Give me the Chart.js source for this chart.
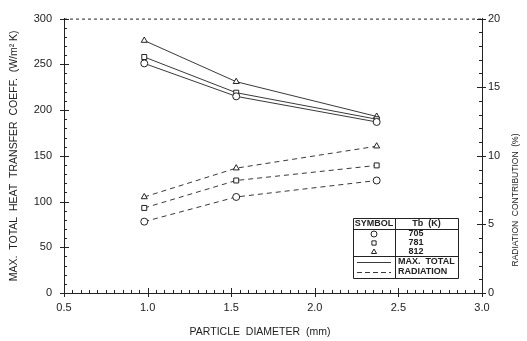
<!DOCTYPE html>
<html>
<head>
<meta charset="utf-8">
<script src="https://cdn.jsdelivr.net/npm/chart.js@4.4.1/dist/chart.umd.min.js"></script>
<style>
  html, body { margin: 0; padding: 0; background: #fff; }
  #wrap { width: 527px; height: 341px; position: relative; }
</style>
</head>
<body>
<div id="wrap"><canvas id="myChart"></canvas></div>
<script>
// Particle diameters (mm)
const diameters = [0.98, 1.53, 2.37];
// Bed temperatures Tb (K)
const temps = ['705', '781', '812'];
// Max. total heat transfer coeff. (W/m2 K), left axis
const total705 = [251, 215, 187];
const total781 = [258, 219, 190];
const total812 = [276, 231, 193];
// Radiation contribution (%), right axis
const rad705 = [5.2, 7.0, 8.2];
const rad781 = [6.2, 8.2, 9.3];
const rad812 = [7.0, 9.1, 10.7];

const ink = '#222';
const font = 'Liberation Sans, Arial, sans-serif';
const markers = ['circle', 'rect', 'triangle'];

const toPoints = (ys) => ys.map((y, i) => ({ x: diameters[i], y: y }));

function series(ys, idx, dashed) {
  return {
    label: (dashed ? 'RADIATION ' : 'MAX. TOTAL ') + temps[idx],
    data: toPoints(ys),
    yAxisID: dashed ? 'y2' : 'y',
    borderColor: ink,
    borderWidth: 0.9,
    borderDash: dashed ? [5, 4] : [],
    pointStyle: markers[idx],
    pointRadius: 3.5,
    pointBorderWidth: 1,
    pointBackgroundColor: '#fff',
    pointBorderColor: ink,
    tension: 0
  };
}

// tick marks drawn inward, dotted top frame, x/right titles and legend table
const extras = {
  id: 'extras',
  afterDraw(chart) {
    const { ctx, chartArea: a, scales } = chart;
    ctx.save();
    ctx.strokeStyle = ink;
    ctx.lineWidth = 1;
    ctx.beginPath();
    for (let v = 0; v <= 300; v += 10) {
      const y = Math.round(scales.y.getPixelForValue(v)) + 0.5;
      const major = v % 50 === 0;
      ctx.moveTo(a.left - (major ? 4 : 0), y);
      ctx.lineTo(a.left + (major ? 5 : 3), y);
    }
    for (let v = 0; v <= 20; v += 1) {
      const y = Math.round(scales.y2.getPixelForValue(v)) + 0.5;
      const major = v % 5 === 0;
      ctx.moveTo(a.right + (major ? 4 : 0), y);
      ctx.lineTo(a.right - (major ? 5 : 3), y);
    }
    for (let k = 10; k <= 60; k++) {
      const x = Math.round(scales.x.getPixelForValue(k * 0.05)) + 0.5;
      const major = k % 10 === 0;
      ctx.moveTo(x, a.bottom + (major ? 4 : 0));
      ctx.lineTo(x, a.bottom - (major ? 5 : 3));
    }
    ctx.stroke();

    // dotted top frame
    ctx.beginPath();
    ctx.setLineDash([3, 3]);
    ctx.moveTo(a.left, a.top + 0.5);
    ctx.lineTo(a.right, a.top + 0.5);
    ctx.stroke();
    ctx.setLineDash([]);

    ctx.fillStyle = ink;
    ctx.textAlign = 'center';
    ctx.textBaseline = 'middle';

    // x axis title
    ctx.font = '10.5px ' + font;
    ctx.fillText('PARTICLE  DIAMETER  (mm)', 260, 332);

    // right axis title
    ctx.font = '8.5px ' + font;
    ctx.save();
    ctx.translate(516, 200);
    ctx.rotate(-Math.PI / 2);
    ctx.fillText('RADIATION  CONTRIBUTION  (%)', 0, 0);
    ctx.restore();

    // legend table
    const L = 353, M = 395, R = 458, T = 218, B = 278;
    ctx.beginPath();
    ctx.rect(L + 0.5, T + 0.5, R - L, B - T);
    ctx.moveTo(M + 0.5, T);
    ctx.lineTo(M + 0.5, B);
    ctx.moveTo(L, 229.5);
    ctx.lineTo(R, 229.5);
    ctx.moveTo(L, 256.5);
    ctx.lineTo(R, 256.5);
    ctx.stroke();

    ctx.font = 'bold 9px ' + font;
    ctx.fillText('SYMBOL', (L + M) / 2, 224);
    ctx.fillText('Tb  (K)', (M + R) / 2, 224);
    const rows = [234, 243, 252];
    rows.forEach((ry, i) => {
      ctx.fillStyle = ink;
      ctx.fillText(temps[i], 416, ry);
      ctx.fillStyle = '#fff';
      Chart.helpers.drawPoint(ctx, {
        pointStyle: markers[i], radius: 3, rotation: 0, borderWidth: 1
      }, (L + M) / 2, ry);
    });
    ctx.fillStyle = ink;
    ctx.textAlign = 'left';
    ctx.fillText('MAX.  TOTAL', 398, 262);
    ctx.fillText('RADIATION', 398, 272);
    ctx.lineWidth = 0.9;
    ctx.beginPath();
    ctx.moveTo(L + 4, 262.5);
    ctx.lineTo(M - 4, 262.5);
    ctx.stroke();
    ctx.setLineDash([5, 3]);
    ctx.beginPath();
    ctx.moveTo(L + 4, 272.5);
    ctx.lineTo(M - 4, 272.5);
    ctx.stroke();
    ctx.restore();
  }
};

const config = {
  type: 'line',
  data: {
    datasets: [
      series(total705, 0, false),
      series(total781, 1, false),
      series(total812, 2, false),
      series(rad705, 0, true),
      series(rad781, 1, true),
      series(rad812, 2, true)
    ]
  },
  options: {
    responsive: true,
    maintainAspectRatio: false,
    animation: false,
    layout: { padding: { top: 15, right: 0, bottom: 0, left: 0 } },
    plugins: {
      legend: { display: false },
      tooltip: { enabled: false }
    },
    scales: {
      x: {
        type: 'linear',
        min: 0.5, max: 3.0,
        afterFit: (s) => { s.height = 48; },
        grid: { display: false, drawTicks: false },
        border: { display: true, color: ink, width: 1 },
        ticks: {
          stepSize: 0.5, padding: 8, color: ink,
          font: { family: font, size: 11 },
          callback: (v) => v.toFixed(1)
        }
      },
      y: {
        position: 'left',
        min: 0, max: 300,
        afterFit: (s) => { s.width = 64; },
        grid: { display: false, drawTicks: false },
        border: { display: true, color: ink, width: 1 },
        ticks: {
          stepSize: 50, padding: 12, color: ink,
          font: { family: font, size: 11 }
        },
        title: {
          display: true, text: 'MAX.  TOTAL  HEAT  TRANSFER  COEFF.  (W/m\u00B2 K)', color: ink,
          font: { family: font, size: 10.5 }, padding: { top: 8, bottom: 0 }
        }
      },
      y2: {
        position: 'right',
        min: 0, max: 20,
        afterFit: (s) => { s.width = 45; },
        grid: { display: false, drawTicks: false },
        border: { display: true, color: ink, width: 1 },
        ticks: {
          stepSize: 5, padding: 6, color: ink,
          font: { family: font, size: 11 }
        }
      }
    }
  },
  plugins: [extras]
};

const myChart = new Chart(document.getElementById('myChart'), config);
</script>
</body>
</html>
